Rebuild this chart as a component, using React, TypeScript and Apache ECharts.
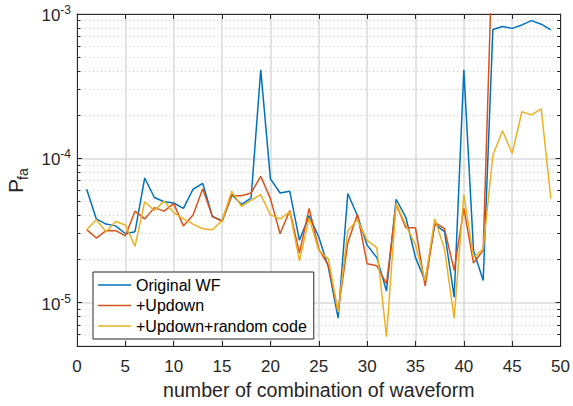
import React, { useEffect, useRef } from "react";
import * as echarts from "echarts";

// Waveform combination index
const combos = [
  1, 2, 3, 4, 5, 6, 7, 8, 9, 10, 11, 12, 13, 14, 15, 16, 17, 18, 19, 20, 21, 22, 23, 24, 25,
  26, 27, 28, 29, 30, 31, 32, 33, 34, 35, 36, 37, 38, 39, 40, 41, 42, 43, 44, 45, 46, 47, 48, 49,
];

// False-alarm probability per combination
const originalWF = [
  6.1e-5, 3.8e-5, 3.5e-5, 3.4e-5, 3.0e-5, 3.1e-5, 7.3e-5, 5.35e-5, 5.0e-5, 4.9e-5,
  4.5e-5, 6.1e-5, 6.7e-5, 3.95e-5, 3.7e-5, 5.6e-5, 4.8e-5, 5.3e-5, 4.1e-4, 7.2e-5,
  5.75e-5, 5.9e-5, 2.7e-5, 4.0e-5, 2.85e-5, 1.75e-5, 7.8e-6, 5.7e-5, 4.0e-5, 2.5e-5,
  2.05e-5, 1.2e-5, 5.2e-5, 3.9e-5, 2.05e-5, 1.42e-5, 3.5e-5, 3.1e-5, 1.09e-5, 4.1e-4,
  2.3e-5, 1.42e-5, 7.8e-4, 8.2e-4, 7.95e-4, 8.4e-4, 9.0e-4, 8.5e-4, 7.75e-4,
];

const updown = [
  3.2e-5, 2.8e-5, 3.15e-5, 3.15e-5, 2.9e-5, 4.3e-5, 3.8e-5, 4.55e-5, 4.3e-5, 4.85e-5,
  3.4e-5, 4.05e-5, 6.15e-5, 3.95e-5, 3.65e-5, 5.5e-5, 5.5e-5, 5.75e-5, 7.5e-5, 5.25e-5,
  3.0e-5, 4.35e-5, 2.2e-5, 4.5e-5, 2.35e-5, 1.8e-5, 8.6e-6, 2.6e-5, 4.1e-5, 1.86e-5,
  1.8e-5, 1.35e-5, 4.8e-5, 3.3e-5, 3.3e-5, 1.3e-5, 3.6e-5, 3.25e-5, 1.67e-5, 4.5e-5,
  1.88e-5, 2.3e-5, 3.5e-3, 3.4e-3, 3.6e-3, 3.3e-3, 3.5e-3, 3.7e-3, 3.4e-3,
];

const updownRandom = [
  3.2e-5, 3.75e-5, 3.1e-5, 3.65e-5, 3.45e-5, 2.45e-5, 5.0e-5, 4.35e-5, 5.05e-5, 4.2e-5,
  3.8e-5, 3.5e-5, 3.25e-5, 3.2e-5, 3.7e-5, 5.9e-5, 4.65e-5, 5.1e-5, 5.6e-5, 4.05e-5,
  3.8e-5, 4.25e-5, 1.95e-5, 3.85e-5, 2.3e-5, 2.0e-5, 8.6e-6, 3.15e-5, 3.75e-5, 2.7e-5,
  2.4e-5, 5.8e-6, 4.85e-5, 3.45e-5, 2.5e-5, 1.42e-5, 3.8e-5, 2.35e-5, 7.8e-6, 5.6e-5,
  2.05e-5, 2.35e-5, 1.05e-4, 1.55e-4, 1.08e-4, 2.1e-4, 2.0e-4, 2.2e-4, 5.25e-5,
];

const seriesNames = ["Original WF", "+Updown", "+Updown+random code"];
const seriesColors = ["#0072BD", "#D95319", "#EDB120"];

// Log-axis range and the in-between decade lines (2..9 x 10^k)
const yMin = 5e-6;
const yMax = 1e-3;
const minorLevels = [
  6e-6, 7e-6, 8e-6, 9e-6,
  2e-5, 3e-5, 4e-5, 5e-5, 6e-5, 7e-5, 8e-5, 9e-5,
  2e-4, 3e-4, 4e-4, 5e-4, 6e-4, 7e-4, 8e-4, 9e-4,
];

const xMin = 0;
const xMax = 50;
const xStep = 5;

const FONT = "Liberation Sans, Arial, Helvetica, sans-serif";
const INK = "#262626";

export default function App() {
  const ref = useRef<HTMLDivElement>(null);

  useEffect(() => {
    document.body.style.margin = "0";
    if (!ref.current) return;
    const chart = echarts.init(ref.current, undefined, { renderer: "svg" });

    const toPairs = (vals: number[]) => combos.map((c, i) => [c, vals[i]]);

    // dotted minor grid and short inward minor ticks on both y sides
    const tickLen = (xMax - xMin) * 0.007;
    const minorGridLines = minorLevels.map((v) => ({ coords: [[xMin, v], [xMax, v]] }));
    const minorTickLines: any[] = [];
    minorLevels.forEach((v) => {
      minorTickLines.push({ coords: [[xMin, v], [xMin + tickLen, v]] });
      minorTickLines.push({ coords: [[xMax - tickLen, v], [xMax, v]] });
    });

    const logLabel = (v: number) => {
      const e = Math.round(Math.log10(v));
      if (Math.abs(v / Math.pow(10, e) - 1) > 1e-6) return "";
      return `{b|10}{e|${e}}`;
    };

    chart.setOption({
      animation: false,
      backgroundColor: "#ffffff",
      textStyle: { fontFamily: FONT, color: INK },
      grid: { left: 77, right: 11, top: 14, bottom: 60, containLabel: false },
      legend: {
        data: seriesNames,
        orient: "vertical",
        left: 93,
        top: 272,
        icon: "rect",
        backgroundColor: "#ffffff",
        borderColor: INK,
        borderWidth: 1,
        borderRadius: 0,
        padding: [5, 7, 5, 5],
        itemWidth: 33,
        itemHeight: 1.6,
        itemGap: 4.5,
        textStyle: { fontFamily: FONT, fontSize: 16, color: "#000000", lineHeight: 16 },
        selectedMode: false,
      },
      xAxis: [
        {
          type: "value",
          min: xMin,
          max: xMax,
          interval: xStep,
          position: "bottom",
          name: "number of combination of waveform",
          nameLocation: "middle",
          nameGap: 30,
          nameTextStyle: { fontFamily: FONT, fontSize: 19.6, color: INK, verticalAlign: "top" },
          axisLine: { show: true, onZero: false, lineStyle: { color: INK, width: 1 } },
          axisTick: { show: true, inside: true, length: 5, lineStyle: { color: INK, width: 1 } },
          axisLabel: { fontFamily: FONT, fontSize: 17, color: INK, margin: 12 },
          splitLine: { show: true, lineStyle: { color: "#dadada", width: 1.5 } },
        },
        {
          type: "value",
          min: xMin,
          max: xMax,
          interval: xStep,
          position: "top",
          axisLine: { show: true, onZero: false, lineStyle: { color: INK, width: 1 } },
          axisTick: { show: true, inside: true, length: 5, lineStyle: { color: INK, width: 1 } },
          axisLabel: { show: false },
          splitLine: { show: false },
        },
      ],
      yAxis: [
        {
          type: "log",
          logBase: 10,
          min: yMin,
          max: yMax,
          position: "left",
          axisLine: { show: true, onZero: false, lineStyle: { color: INK, width: 1 } },
          axisTick: { show: true, inside: true, length: 5, lineStyle: { color: INK, width: 1 } },
          axisLabel: {
            margin: 6,
            formatter: logLabel,
            rich: {
              b: { fontFamily: FONT, fontSize: 17, color: INK, lineHeight: 20, verticalAlign: "bottom" },
              e: { fontFamily: FONT, fontSize: 12, color: INK, lineHeight: 11, verticalAlign: "top" },
            },
          },
          splitLine: { show: true, lineStyle: { color: "#dadada", width: 1.5 } },
        },
        {
          type: "log",
          logBase: 10,
          min: yMin,
          max: yMax,
          position: "right",
          axisLine: { show: true, onZero: false, lineStyle: { color: INK, width: 1 } },
          axisTick: { show: true, inside: true, length: 5, lineStyle: { color: INK, width: 1 } },
          axisLabel: { show: false },
          splitLine: { show: false },
        },
      ],
      graphic: [
        {
          type: "group",
          x: 26,
          y: 193,
          rotation: Math.PI / 2,
          children: [
            {
              type: "text",
              x: 0,
              y: 0,
              style: { text: "P", fontFamily: FONT, fontSize: 21, fill: INK, align: "left", verticalAlign: "bottom" },
            },
            {
              type: "text",
              x: 13,
              y: 4,
              style: { text: "fa", fontFamily: FONT, fontSize: 14, fill: INK, align: "left", verticalAlign: "bottom" },
            },
          ],
        },
      ],
      series: [
        {
          name: "minor-grid",
          type: "lines",
          coordinateSystem: "cartesian2d",
          xAxisIndex: 0,
          yAxisIndex: 0,
          silent: true,
          z: 1,
          lineStyle: { type: [1, 3], color: "#c6c6c6", width: 1, opacity: 1 },
          data: minorGridLines,
        },
        {
          name: "minor-ticks",
          type: "lines",
          coordinateSystem: "cartesian2d",
          xAxisIndex: 0,
          yAxisIndex: 0,
          silent: true,
          z: 2,
          lineStyle: { type: "solid", color: INK, width: 1, opacity: 1 },
          data: minorTickLines,
        },
        ...[originalWF, updown, updownRandom].map((vals, i) => ({
          name: seriesNames[i],
          type: "line",
          data: toPairs(vals),
          symbol: "none",
          showSymbol: false,
          clip: true,
          z: 3 + i,
          color: seriesColors[i],
          lineStyle: { color: seriesColors[i], width: 1.5 },
          emphasis: { disabled: true },
        })),
      ],
    });

    return () => chart.dispose();
  }, []);

  return <div ref={ref} style={{ width: 573, height: 406 }} />;
}
